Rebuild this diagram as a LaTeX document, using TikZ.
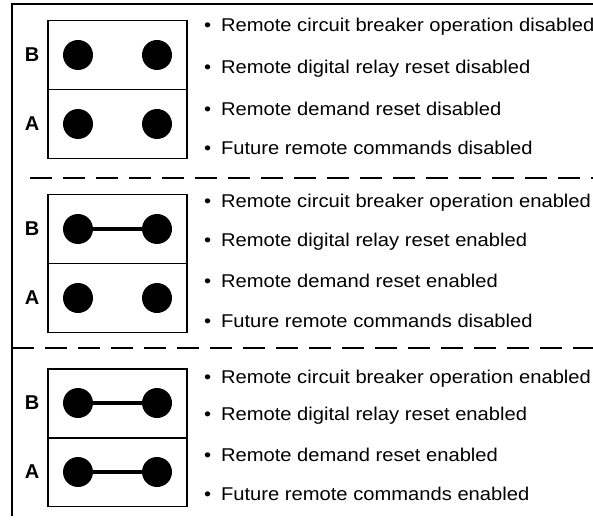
\documentclass[tikz,border=0pt]{standalone}
\usepackage{fontspec}
\setmainfont{Liberation Sans}
\newfontfamily\itemfont[FakeStretch=1.09]{Liberation Sans}
\usetikzlibrary{positioning}

\begin{document}
\begin{tikzpicture}[
    x=1pt, y=-1pt,
    every node/.style={inner sep=0pt, outer sep=0pt},
    jbox/.style={draw, line width=1.3pt, minimum width=139pt, minimum height=69pt},
    pin/.style={circle, fill=black, minimum size=30pt},
    jumper/.style={line width=4.5pt},
    row/.style={draw=none, font=\fontsize{20}{24}\selectfont\bfseries},
    item/.style={anchor=west, font=\itemfont\fontsize{18.5}{22}\selectfont},
    frame/.style={line width=1.3pt},
    sep/.style={line width=1.3pt, dash pattern=on 22pt off 11pt}
]
\useasboundingbox (0,0) rectangle (593,521);

% outer frame and separators
\draw[frame] (593,4) -- (12,4) -- (12,516);
\draw[sep] (30,178) -- (593,178);
\draw[sep] (12,348) -- (593,348);

% panel 1: all open
\node[jbox] (bbox1) at (117.5,55) {};
\node[jbox] (abox1) at (117.5,124) {};
\node[row] (lb1) at (32,55) {B};
\node[row] (la1) at (32,124) {A};
\node[pin] (b1l) at (78,55) {};
\node[pin] (b1r) at (157,55) {};
\node[pin] (a1l) at (78,124) {};
\node[pin] (a1r) at (157,124) {};

\node[item] (t11) at (204,27) {\textbullet\hspace{10pt}Remote circuit breaker operation disabled};
\node[item] (t12) at (204,69) {\textbullet\hspace{10pt}Remote digital relay reset disabled};
\node[item] (t13) at (204,109) {\textbullet\hspace{10pt}Remote demand reset disabled};
\node[item] (t14) at (204,148) {\textbullet\hspace{10pt}Future remote commands disabled};

% panel 2: B closed
\node[jbox] (bbox2) at (117.5,229) {};
\node[jbox] (abox2) at (117.5,298) {};
\node[row] (lb2) at (32,229) {B};
\node[row] (la2) at (32,298) {A};
\node[pin] (b2l) at (78,229) {};
\node[pin] (b2r) at (157,229) {};
\node[pin] (a2l) at (78,298) {};
\node[pin] (a2r) at (157,298) {};
\draw[jumper] (b2l) -- (b2r);

\node[item] (t21) at (204,203) {\textbullet\hspace{10pt}Remote circuit breaker operation enabled};
\node[item] (t22) at (204,242) {\textbullet\hspace{10pt}Remote digital relay reset enabled};
\node[item] (t23) at (204,281) {\textbullet\hspace{10pt}Remote demand reset enabled};
\node[item] (t24) at (204,321) {\textbullet\hspace{10pt}Future remote commands disabled};

% panel 3: A and B closed
\node[jbox] (bbox3) at (117.5,403.5) {};
\node[jbox] (abox3) at (117.5,472) {};
\node[row] (lb3) at (32,403) {B};
\node[row] (la3) at (32,472) {A};
\node[pin] (b3l) at (78,403) {};
\node[pin] (b3r) at (157,403) {};
\node[pin] (a3l) at (78,472) {};
\node[pin] (a3r) at (157,472) {};
\draw[jumper] (b3l) -- (b3r);
\draw[jumper] (a3l) -- (a3r);

\node[item] (t31) at (204,379) {\textbullet\hspace{10pt}Remote circuit breaker operation enabled};
\node[item] (t32) at (204,416) {\textbullet\hspace{10pt}Remote digital relay reset enabled};
\node[item] (t33) at (204,455) {\textbullet\hspace{10pt}Remote demand reset enabled};
\node[item] (t34) at (204,494) {\textbullet\hspace{10pt}Future remote commands enabled};

\end{tikzpicture}
\end{document}
